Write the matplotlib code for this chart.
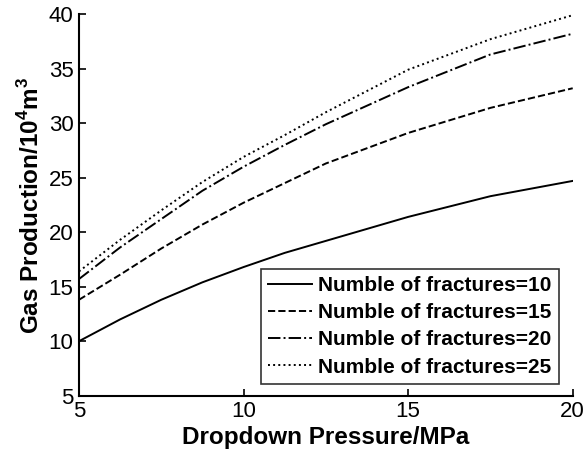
import matplotlib
matplotlib.use("Agg")
import matplotlib.pyplot as plt

plt.rcParams['font.family'] = ['Liberation Sans', 'DejaVu Sans']
plt.rcParams['mathtext.fontset'] = 'custom'
plt.rcParams['mathtext.rm'] = 'Liberation Sans:bold'
plt.rcParams['mathtext.bf'] = 'Liberation Sans:bold'

pressure = [5, 6.25, 7.5, 8.75, 10, 11.25, 12.5, 15, 17.5, 20]
n10 = [10.0, 12.0, 13.8, 15.4, 16.8, 18.1, 19.2, 21.4, 23.3, 24.7]
n15 = [13.8, 16.1, 18.5, 20.7, 22.7, 24.5, 26.3, 29.1, 31.4, 33.2]
n20 = [15.7, 18.6, 21.2, 23.8, 26.0, 28.0, 29.9, 33.3, 36.3, 38.2]
n25 = [16.4, 19.3, 22.0, 24.6, 26.9, 28.9, 31.0, 34.9, 37.7, 39.9]
labels = ['Numble of fractures=10', 'Numble of fractures=15',
          'Numble of fractures=20', 'Numble of fractures=25']
xticks = [5, 10, 15, 20]
yticks = [5, 10, 15, 20, 25, 30, 35, 40]

fig = plt.figure(figsize=(5.85, 4.55), dpi=100)
ax = fig.add_axes([0.135, 0.1303, 0.844, 0.8387])

styles = ['-', '--', '-.', ':']
for ys, ls, lab in zip([n10, n15, n20, n25], styles, labels):
    ax.plot(pressure, ys, color='black', linestyle=ls, linewidth=1.4, label=lab)

ax.set_xlim(5, 20)
ax.set_ylim(5, 40)
ax.set_xticks(xticks)
ax.set_yticks(yticks)
ax.spines['top'].set_visible(False)
ax.spines['right'].set_visible(False)
for s in ['left', 'bottom']:
    ax.spines[s].set_linewidth(1.5)
ax.tick_params(direction='in', length=5, width=1.2, labelsize=16, pad=4)

ax.set_xlabel('Dropdown Pressure/MPa', fontsize=17.5, fontweight='bold', labelpad=3)
ax.set_ylabel(r'Gas Production/10$^{4}$m$^{3}$', fontsize=17.5, fontweight='bold', labelpad=3)

leg = ax.legend(loc='lower right', bbox_to_anchor=(0.972, 0.031),
                prop={'weight': 'bold', 'size': 15}, frameon=True, fancybox=False,
                handlelength=2.1, handletextpad=0.3, borderpad=0.35, labelspacing=0.39,
                borderaxespad=0)
leg.get_frame().set_edgecolor('black')
leg.get_frame().set_linewidth(1.2)

fig.savefig('out.png', dpi=100)
